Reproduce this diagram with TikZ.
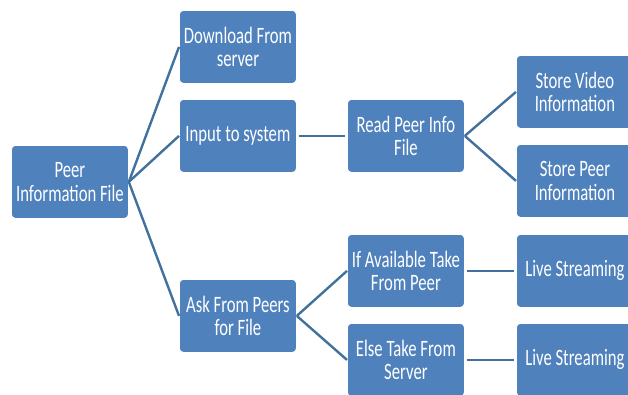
\documentclass[tikz,border=0pt]{standalone}
\usepackage{fontspec}
\setmainfont[FakeStretch=0.71]{Carlito}
\definecolor{boxblue}{HTML}{4F81BD}
\definecolor{linkblue}{HTML}{41719C}
\begin{document}
\begin{tikzpicture}[x=1pt,y=-1pt,
  block/.style={rectangle, rounded corners=4pt, fill=boxblue, draw=white, line width=0.8pt,
    minimum width=117pt, minimum height=73pt, inner sep=0pt, align=center,
    text=white, font=\fontsize{23.5}{23.5}\selectfont, anchor=north west},
  link/.style={draw=linkblue, line width=2.4pt}]
\useasboundingbox (0,0) rectangle (628,394);
\clip (0,0) rectangle (628,394);
% root
\node[block] (root) at (11,145) {Peer\\Information File};
% first level
\node[block] (dl)  at (179,10)  {Download From\\server};
\node[block] (inp) at (179,99)  {Input to system};
\node[block] (ask) at (179,279) {Ask From Peers\\for File};
% second level
\node[block] (read) at (347,99)  {Read Peer Info\\File};
\node[block] (avail) at (347,234) {If Available Take\\From Peer};
\node[block] (else) at (347,323) {Else Take From\\Server};
% third level
\node[block] (vid)  at (516,55)  {Store Video\\Information};
\node[block] (peer) at (516,144) {Store Peer\\Information};
\node[block] (ls1)  at (516,234) {Live Streaming};
\node[block] (ls2)  at (516,323) {Live Streaming};
% connectors
\draw[link] (root.east) -- (dl.west);
\draw[link] (root.east) -- (inp.west);
\draw[link] (root.east) -- (ask.west);
\draw[link, shorten <=2pt, shorten >=2pt] (inp.east) -- (read.west);
\draw[link] (read.east) -- (vid.west);
\draw[link] (read.east) -- (peer.west);
\draw[link] (ask.east) -- (avail.west);
\draw[link] (ask.east) -- (else.west);
\draw[link, shorten <=2pt, shorten >=2pt] (avail.east) -- (ls1.west);
\draw[link, shorten <=2pt, shorten >=2pt] (else.east) -- (ls2.west);
\end{tikzpicture}
\end{document}
